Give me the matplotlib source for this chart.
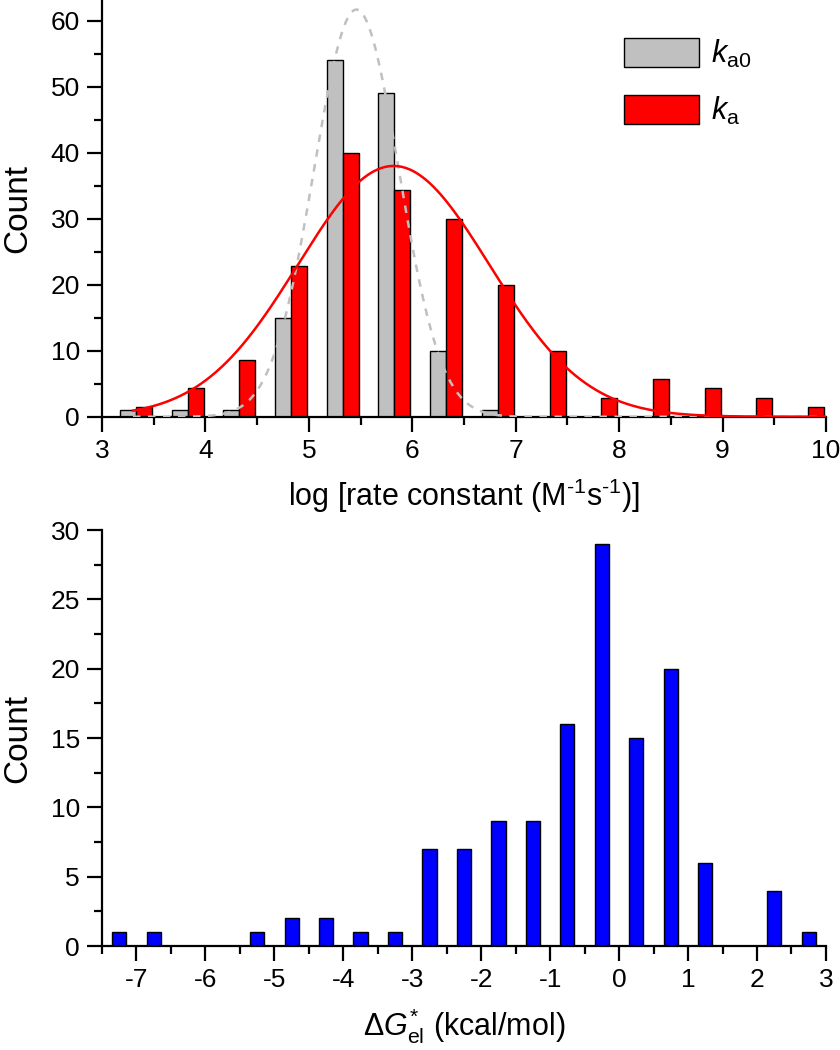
import numpy as np
import matplotlib.pyplot as plt
from matplotlib.ticker import MultipleLocator

plt.rcParams['font.family'] = ['Liberation Sans', 'DejaVu Sans']
plt.rcParams['mathtext.fontset'] = 'custom'
plt.rcParams['mathtext.rm'] = 'Liberation Sans'
plt.rcParams['mathtext.it'] = 'Liberation Sans:italic'
plt.rcParams['axes.unicode_minus'] = False

# top panel: histogram of log rate constants (bin centres)
rate_bins = [3.25, 3.75, 4.25, 4.75, 5.25, 5.75, 6.25, 6.75,
             7.25, 7.75, 8.25, 8.75, 9.25, 9.75]
count_ka0 = [1, 1, 1, 15, 54, 49, 10, 1, 0, 0, 0, 0, 0, 0]
count_ka = [1.43, 4.29, 8.57, 22.86, 40.0, 34.29, 30.0, 20.0,
            10.0, 2.86, 5.71, 4.29, 2.86, 1.43]

# gaussian fits: (centre, sigma, height)
fit_ka0 = (5.46, 0.41, 61.7)
fit_ka = (5.82, 0.925, 38.0)

# bottom panel: histogram of electrostatic free energy
dg_bins = [-7.25, -6.75, -6.25, -5.75, -5.25, -4.75, -4.25, -3.75, -3.25,
           -2.75, -2.25, -1.75, -1.25, -0.75, -0.25, 0.25, 0.75, 1.25,
           1.75, 2.25, 2.75]
count_dg = [1, 1, 0, 0, 1, 2, 2, 1, 1, 7, 7, 9, 9, 16, 29, 15, 20, 6,
            0, 4, 1]

TICK_FS = 19
LABEL_FS = 22


def gauss(x, p):
    c, s, h = p
    return h * np.exp(-(x - c) ** 2 / (2 * s ** 2))


def style_axes(ax):
    ax.spines['top'].set_visible(False)
    ax.spines['right'].set_visible(False)
    for sp in ('left', 'bottom'):
        ax.spines[sp].set_linewidth(1.6)
    ax.tick_params(which='major', direction='out', length=11, width=1.6,
                   labelsize=TICK_FS, pad=5)
    ax.tick_params(which='minor', direction='out', length=5.5, width=1.6)
    ax.set_ylabel('Count', fontsize=24, labelpad=12)


def main():
    fig = plt.figure(figsize=(8.4, 10.5), dpi=100)

    ax1 = fig.add_axes([0.1214, 0.6031, 0.8619, 0.3960])
    w = 0.155
    ax1.bar(rate_bins, count_ka0, width=w, color='#c0c0c0',
            edgecolor='black', linewidth=1.0, label=r'$k_{\rm a0}$', zorder=2)
    ax1.bar(np.array(rate_bins) + w, count_ka, width=w, color='#ff0000',
            edgecolor='black', linewidth=1.0, label=r'$k_{\rm a}$', zorder=2)

    xs = np.linspace(3.3, 10, 400)
    ax1.plot(xs, gauss(xs, fit_ka0), color='#c0c0c0', linestyle=(0, (3, 3)),
             linewidth=1.8, zorder=3)
    ax1.plot(xs, gauss(xs, fit_ka), color='#ff0000', linewidth=1.8, zorder=3)

    ax1.set_xlim(3, 10)
    ax1.set_ylim(0, 63)
    ax1.xaxis.set_major_locator(MultipleLocator(1))
    ax1.xaxis.set_minor_locator(MultipleLocator(0.5))
    ax1.yaxis.set_major_locator(MultipleLocator(10))
    ax1.yaxis.set_minor_locator(MultipleLocator(5))
    style_axes(ax1)
    ax1.set_xlabel(r'log [rate constant (M$^{\text{-1}}$s$^{\text{-1}}$)]',
                   fontsize=LABEL_FS, labelpad=10)

    ax1.legend(loc='upper left', bbox_to_anchor=(0.704, 0.94),
               fontsize=LABEL_FS, frameon=False, handlelength=2.45,
               handleheight=1.1, handletextpad=0.4, labelspacing=0.8,
               borderaxespad=0)

    ax2 = fig.add_axes([0.1214, 0.0990, 0.8619, 0.3962])
    ax2.bar(dg_bins, count_dg, width=0.205, color='#0000ff',
            edgecolor='black', linewidth=1.0, zorder=2)
    ax2.set_xlim(-7.5, 3)
    ax2.set_ylim(0, 30)
    ax2.xaxis.set_major_locator(MultipleLocator(1))
    ax2.xaxis.set_minor_locator(MultipleLocator(0.5))
    ax2.yaxis.set_major_locator(MultipleLocator(5))
    ax2.yaxis.set_minor_locator(MultipleLocator(2.5))
    style_axes(ax2)
    ax2.set_xlabel(r'$\Delta G^{*}_{\rm el}$ (kcal/mol)',
                   fontsize=LABEL_FS, labelpad=10)

    fig.savefig('out.png', dpi=100)


if __name__ == '__main__':
    main()
